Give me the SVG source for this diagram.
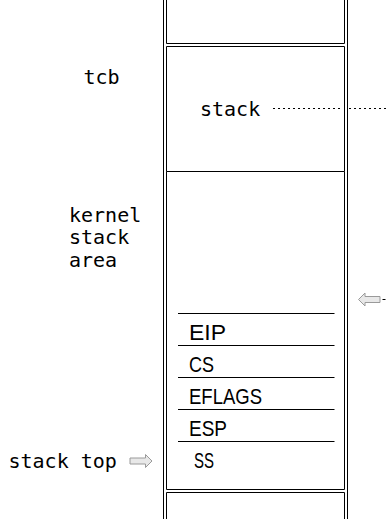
<svg xmlns="http://www.w3.org/2000/svg" width="389" height="519" viewBox="0 0 389 519">
<style>
.ln{stroke:#000;stroke-width:1;fill:none}
.lbl{font-family:"DejaVu Sans Mono","Liberation Mono",monospace;font-size:20px;fill:#000}
.reg{font-family:"Liberation Sans",Arial,sans-serif;font-size:22px;fill:#000}
.dot{stroke:#000;stroke-width:1;stroke-dasharray:2,3;fill:none}
.harrow{fill:#e8e8e8;stroke:#9a9a9a;stroke-width:1}
</style>
<rect width="389" height="519" fill="#fff"/>
<g id="column">
<line class="ln" x1="163.5" y1="0" x2="163.5" y2="519"/>
<line class="ln" x1="347.5" y1="0" x2="347.5" y2="519"/>
</g>
<g id="top-box">
<path class="ln" d="M166.5,0 V43.5 H344.5 V0"/>
</g>
<g id="tcb-box">
<path class="ln" d="M166.5,46.5 H344.5 V171.5 H166.5 Z"/>
<text class="lbl" x="200" y="116">stack</text>
</g>
<g id="kernel-stack-box">
<path class="ln" d="M166.5,171.5 V489.5 H344.5 V171.5"/>
</g>
<g id="bottom-box">
<path class="ln" d="M166.5,519 V492.5 H344.5 V519"/>
</g>
<g id="registers">
<line class="ln" x1="178" y1="313.5" x2="334.5" y2="313.5"/>
<line class="ln" x1="178" y1="345.5" x2="334.5" y2="345.5"/>
<line class="ln" x1="178" y1="377.5" x2="334.5" y2="377.5"/>
<line class="ln" x1="178" y1="409.5" x2="334.5" y2="409.5"/>
<line class="ln" x1="178" y1="441.5" x2="334.5" y2="441.5"/>
<text class="reg" x="189" y="339.5" textLength="37" lengthAdjust="spacingAndGlyphs">EIP</text>
<text class="reg" x="189" y="371.5" textLength="25" lengthAdjust="spacingAndGlyphs">CS</text>
<text class="reg" x="189" y="403.5" textLength="73" lengthAdjust="spacingAndGlyphs">EFLAGS</text>
<text class="reg" x="189" y="435.5" textLength="38" lengthAdjust="spacingAndGlyphs">ESP</text>
<text class="reg" x="194" y="467.5" textLength="20" lengthAdjust="spacingAndGlyphs">SS</text>
</g>
<g id="labels">
<text class="lbl" x="83.5" y="83.5">tcb</text>
<text class="lbl" x="69" y="221.5">kernel</text>
<text class="lbl" x="69" y="244">stack</text>
<text class="lbl" x="69" y="266.5">area</text>
<text class="lbl" x="8.5" y="468">stack top</text>
</g>
<g id="connectors">
<line class="dot" x1="273" y1="108.5" x2="342" y2="108.5"/>
<line class="dot" x1="349" y1="108.5" x2="389" y2="108.5"/>
<polygon class="harrow" points="358.5,299.5 365,293 365,296.5 380,296.5 380,302.5 365,302.5 365,306"/>
<line class="ln" x1="382.5" y1="299.5" x2="385.5" y2="299.5"/>
<polygon class="harrow" points="152,461 145.5,454.5 145.5,458 130,458 130,464 145.5,464 145.5,467.5"/>
</g>
</svg>
